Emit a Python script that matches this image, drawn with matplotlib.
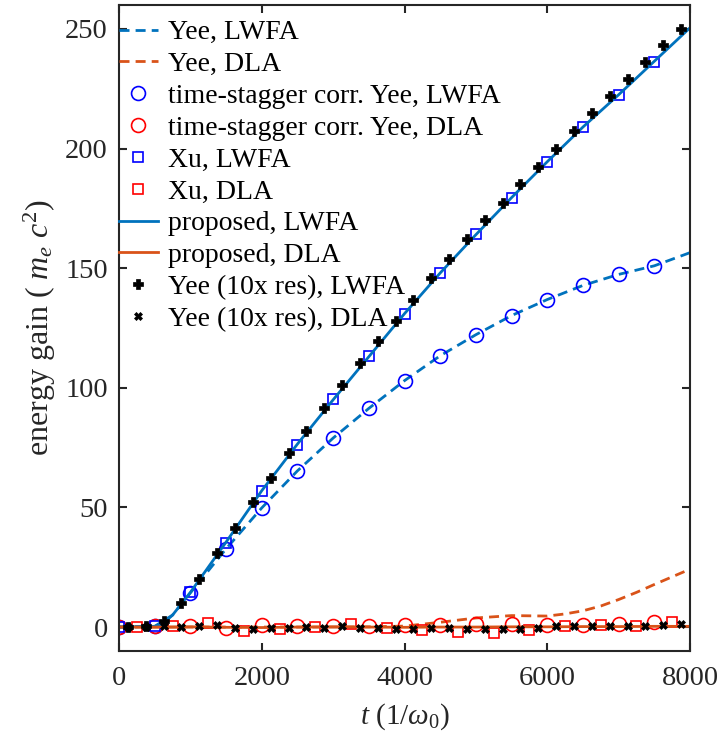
import matplotlib.pyplot as plt
import numpy as np

# ---- data ----
# Yee, dashed lines
t_yee = [0, 500, 750, 1000, 1500, 2000, 2500, 3000, 3500, 4000, 4500, 5000, 5500, 6000, 6500, 7000, 7500, 8000]
yee_lwfa = [0, 0.3, 5, 14.3, 32.7, 49.8, 65.3, 79, 91.4, 103, 113.4, 122.2, 130.2, 136.9, 142.8, 147.4, 151, 156.5]

t_yee_dla = [0, 1000, 2000, 3000, 3500, 4000, 4500, 5000, 5500, 6000, 6250, 6500, 6750, 7000, 7250, 7500, 7750, 8000]
yee_dla = [0, 0, 0, 0, 0.1, 0.4, 2.0, 3.8, 4.8, 4.6, 5.5, 6.8, 8.8, 11.5, 14.5, 17.8, 21, 24.2]

# time-stagger corrected Yee (circles)
t_tsc = [0, 500, 1000, 1500, 2000, 2500, 3000, 3500, 4000, 4500, 5000, 5500, 6000, 6500, 7000, 7500]
tsc_lwfa = [0, 0.5, 14.3, 32.7, 49.8, 65.3, 78.9, 91.4, 103, 113.4, 122.2, 130.2, 136.9, 142.8, 147.4, 150.9]
tsc_dla = [0, 0.5, 0.5, -0.2, 0.8, 0.5, 0.5, 0.4, 0.8, 1.0, 1.2, 1.2, 1.0, 1.0, 1.2, 2.0]

# Xu (squares)
t_xu_lwfa = [0, 500, 1000, 1500, 2000, 2500, 3000, 3500, 4000, 4500, 5000, 5500, 6000, 6500, 7000, 7500]
xu_lwfa = [0, 0.5, 14.5, 35, 57, 76, 95.3, 113.1, 130.9, 148.1, 164.1, 179.5, 194.5, 208.9, 222.2, 236.2]
t_xu_dla = [250, 750, 1250, 1750, 2250, 2750, 3250, 3750, 4250, 4750, 5250, 5750, 6250, 6750, 7250, 7750]
xu_dla = [0, 0.5, 1.7, -1.7, -0.9, 0, 1.2, -0.4, -1.4, -2.2, -2.5, -1.4, 0.6, 0.8, 0.6, 2.2]

# proposed (solid lines)
t_prop = [0, 500, 600, 750, 1000, 1250, 1500, 2000, 2500, 3000, 3500, 4000, 4500, 5000, 5500, 6000, 6500, 7000, 7500, 8000]
prop_lwfa = [0, 0.3, 1, 5, 14.5, 25, 35.5, 57, 76.5, 95, 113, 131, 148, 164, 179.5, 194.5, 209, 222.5, 236.5, 250.5]
prop_dla = [0, 0, 0, 0, 0.1, 0, -0.1, -0.2, 0, 0.1, 0, -0.1, 0, 0, 0.1, 0.1, 0.2, 0.2, 0.3, 0.3]

# Yee 10x resolution (+ and x markers)
t_hr = [125, 375, 625, 875, 1125, 1375, 1625, 1875, 2125, 2375, 2625, 2875, 3125, 3375, 3625, 3875,
        4125, 4375, 4625, 4875, 5125, 5375, 5625, 5875, 6125, 6375, 6625, 6875, 7125, 7375, 7625, 7875]
hr_lwfa = [0, 0.3, 2.5, 10, 20.1, 31.0, 41.5, 52.4, 62.5, 72.6, 81.8, 91.5, 101, 110.3, 119.4, 128.1,
           136.9, 145.7, 153.9, 162, 170, 177.4, 185, 192.4, 200, 207.5, 214.8, 222, 229.2, 236.2, 243.2, 250.1]
hr_dla = [0, 0, 0.3, 0.2, 0.5, 0.8, -0.5, -1.0, -0.3, -0.5, 0.2, -0.2, 0.3, -0.5, -0.3, -0.6,
          -0.8, -0.5, -0.5, -0.8, -0.8, -0.8, -0.8, -0.3, 0.3, 0.3, 0.5, 0.5, 0.5, 0.6, 0.8, 1.4]

# ---- style ----
plt.rcParams['font.family'] = 'Liberation Serif'
plt.rcParams['mathtext.fontset'] = 'custom'
plt.rcParams['mathtext.rm'] = 'Liberation Serif'
plt.rcParams['mathtext.it'] = 'Liberation Serif:italic'
axc = '#262626'

blue = '#0072BD'
orange = '#D95319'
dash = (3.6, 2.2)

fig = plt.figure(figsize=(7.19, 7.38), dpi=100)
ax = fig.add_axes([0.1655, 0.1179, 0.7942, 0.8753])

ax.plot(t_yee, yee_lwfa, '--', color=blue, lw=2, dashes=dash, label='Yee, LWFA')
ax.plot(t_yee_dla, yee_dla, '--', color=orange, lw=2, dashes=dash, label='Yee, DLA')
ax.plot(t_tsc, tsc_lwfa, 'o', color='blue', mfc='none', ms=10, mew=1.2,
        label='time-stagger corr. Yee, LWFA')
ax.plot(t_tsc, tsc_dla, 'o', color='red', mfc='none', ms=10, mew=1.2,
        label='time-stagger corr. Yee, DLA')
ax.plot(t_xu_lwfa, xu_lwfa, 's', color='blue', mfc='none', ms=7.5, mew=1.2, label='Xu, LWFA')
ax.plot(t_xu_dla, xu_dla, 's', color='red', mfc='none', ms=7.5, mew=1.2, label='Xu, DLA')
ax.plot(t_prop, prop_lwfa, '-', color=blue, lw=2, label='proposed, LWFA')
ax.plot(t_prop, prop_dla, '-', color=orange, lw=2, label='proposed, DLA')
ax.plot(t_hr, hr_lwfa, 'P', color='black', ms=6.5, mew=0.5, label='Yee (10x res), LWFA')
ax.plot(t_hr, hr_dla, 'X', color='black', ms=6, mew=0.5, label='Yee (10x res), DLA')

ax.set_xlim(0, 8000)
ax.set_ylim(-10, 260)
ax.set_xticks([0, 2000, 4000, 6000, 8000])
ax.set_yticks([0, 50, 100, 150, 200, 250])
ax.tick_params(direction='in', top=True, right=True, length=6, width=1.5,
               labelsize=20.5, colors=axc, pad=8)
ax.tick_params(axis='x', pad=11)
for s in ax.spines.values():
    s.set_color(axc)
    s.set_linewidth(1.5)

ax.set_xlabel(r'$t$ (1/$\omega_0$)', fontsize=21, color=axc, labelpad=7)
ax.set_ylabel(r'energy gain ( $m_e\ c^2$)', fontsize=23, color=axc, labelpad=5)

ax.legend(loc='upper left', bbox_to_anchor=(0.0, 0.977), frameon=False, fontsize=20,
          handlelength=1.4, handletextpad=0.35, labelspacing=0.23,
          borderaxespad=0, borderpad=0)

fig.savefig('out.png', dpi=100)
